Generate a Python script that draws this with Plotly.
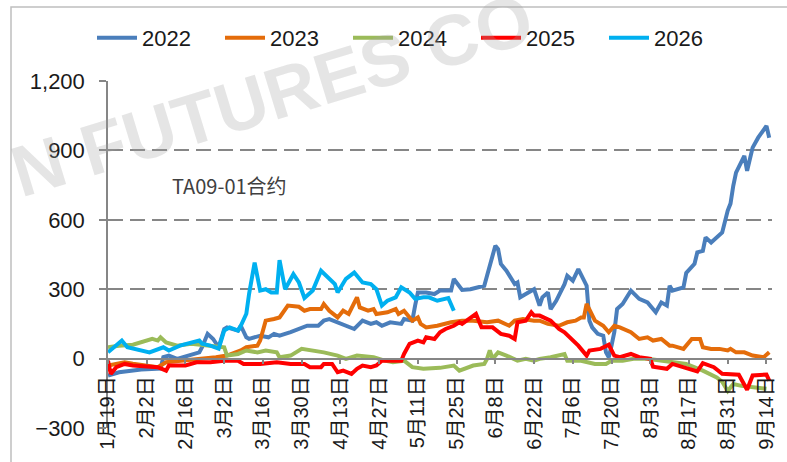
import plotly.graph_objects as go

BASE_YEAR = 2023  # non-leap display year for the month-day axis

# ---- data (month-day, spread value) ----
dates_2022 = ["01-19","01-23","01-31","02-07","02-08","02-10","02-13","02-15","02-18","02-21","02-22","02-24","02-26","02-28",
              "03-02","03-03","03-07","03-08","03-10","03-11","03-15","03-18","03-20","03-22","03-26","03-29","04-01","04-05",
              "04-07","04-09","04-12","04-15","04-18","04-21","04-24","04-26","04-28","05-01","05-05","05-06","05-09","05-10",
              "05-11","05-14","05-17","05-19","05-23","05-24","05-25","05-27","05-30","06-03","06-04","06-05","06-07","06-08",
              "06-09","06-10","06-12","06-13","06-15","06-16","06-17","06-19","06-22","06-24","06-25","06-27","06-28","06-30",
              "07-03","07-04","07-06","07-08","07-10","07-11","07-12","07-13","07-15","07-17","07-18","07-19","07-20","07-21",
              "07-22","07-24","07-27","07-30","08-02","08-05","08-07","08-09","08-10","08-11","08-15","08-16","08-19","08-20",
              "08-22","08-23","08-25","08-27","08-29","08-31","09-01","09-02","09-03","09-06","09-07","09-09","09-11","09-14","09-15"]
values_2022 = [-73,-59,-47,-43,6,13,-1,6,20,27,49,107,85,49,
               128,135,121,142,92,85,99,92,107,99,114,128,142,142,
               164,171,157,142,128,164,150,157,142,157,150,171,164,229,
               286,286,279,294,294,344,329,297,300,311,315,358,437,488,
               473,409,380,358,322,329,265,279,300,229,265,286,214,250,
               322,358,337,387,344,315,164,135,107,99,27,6,56,114,
               214,236,294,258,243,200,243,229,315,294,308,370,410,459,
               466,524,502,524,545,640,670,747,804,876,812,912,955,1006,955]

dates_2023 = ["01-19","01-25","01-28","02-06","02-09","02-16","02-22","02-27","03-03","03-08","03-10","03-14","03-15","03-17",
              "03-20","03-22","03-25","03-29","03-31","04-02","04-06","04-07","04-09","04-12","04-14","04-16","04-19","04-20",
              "04-23","04-25","04-26","04-30","05-03","05-04","05-06","05-09","05-11","05-12","05-14","05-18","05-23","05-27",
              "05-31","06-05","06-09","06-13","06-15","06-18","06-22","06-24","06-27","07-01","07-04","07-07","07-09","07-10",
              "07-11","07-12","07-14","07-17","07-19","07-21","07-23","07-27","07-30","08-02","08-04","08-07","08-10","08-11",
              "08-13","08-15","08-18","08-21","08-22","08-25","08-28","08-31","09-01","09-03","09-06","09-09","09-13","09-15"]
values_2023 = [-30,-16,-22,-37,-16,-9,-1,6,13,35,49,56,78,164,
               171,178,229,224,207,214,214,236,207,178,207,193,265,221,
               207,214,193,200,214,193,207,164,178,150,135,142,157,164,
               164,157,164,142,164,171,164,164,150,142,157,164,178,178,
               236,214,164,142,114,142,135,114,85,92,78,85,56,56,
               49,42,85,85,49,42,42,35,42,27,27,13,6,27]

dates_2024 = ["01-19","01-23","01-28","02-04","02-06","02-07","02-09","02-13","02-18","02-22","02-27","03-02","03-03","03-07",
              "03-10","03-14","03-17","03-21","03-22","03-26","03-30","04-03","04-07","04-12","04-15","04-19","04-25","04-29",
              "05-02","05-06","05-09","05-13","05-19","05-24","05-26","05-31","06-04","06-05","06-06","06-07","06-09","06-12",
              "06-16","06-19","06-22","06-24","06-28","07-03","07-04","07-09","07-14","07-18","07-20","07-24","07-28","08-02",
              "08-07","08-10","08-16","08-22","08-27","08-29","08-31","09-02","09-05","09-10","09-14"]
values_2024 = [49,56,60,85,78,92,70,56,64,60,56,49,13,20,
               35,27,35,27,6,13,42,35,27,13,-1,13,6,-9,
               -16,-9,-37,-44,-40,-30,-52,-30,-23,-1,35,-1,27,13,
               -9,-1,-9,-1,6,20,-9,-9,-23,-23,-9,-9,-1,-1,
               -9,-16,-23,-52,-81,-100,-140,-110,-118,-125,-130]

dates_2025 = ["01-19","01-20","01-22","01-25","01-28","02-06","02-09","02-10","02-16","02-20","02-25","03-02","03-07","03-09",
              "03-15","03-21","03-26","03-31","04-02","04-06","04-07","04-10","04-12","04-14","04-17","04-19","04-21","04-24",
              "04-26","04-28","05-05","05-06","05-08","05-11","05-13","05-14","05-17","05-19","05-21","05-24","05-26","05-27",
              "06-01","06-03","06-07","06-10","06-13","06-15","06-16","06-19","06-21","06-22","06-24","06-28","07-01","07-03",
              "07-08","07-11","07-12","07-16","07-19","07-21","07-23","07-27","07-30","08-03","08-04","08-09","08-11","08-15",
              "08-20","08-22","08-26","08-29","09-04","09-07","09-09","09-14","09-15"]
values_2025 = [-9,-66,-37,-23,-30,-37,-52,-30,-30,-16,-16,-9,-9,-23,
               -23,-16,-23,-23,-37,-37,-23,-23,-59,-52,-66,-44,-30,-37,
               -30,-9,-9,20,64,78,70,92,85,114,128,142,157,150,
               193,135,135,107,99,85,157,164,200,186,186,164,128,114,
               56,13,35,42,60,13,6,20,6,-1,-35,-44,-23,-37,
               -55,-20,-37,-66,-70,-135,-73,-69,-95]

dates_2026 = ["01-19","01-24","01-26","02-03","02-08","02-10","02-14","02-18","02-21","02-22","02-25","02-28","03-02","03-04",
              "03-07","03-08","03-10","03-11","03-13","03-15","03-17","03-19","03-21","03-22","03-24","03-27","03-29","03-31",
              "04-03","04-06","04-08","04-11","04-12","04-14","04-15","04-18","04-21","04-24","04-26","04-28","04-30","05-03",
              "05-05","05-08","05-10","05-13","05-15","05-18","05-22","05-24"]
values_2026 = [27,78,49,27,49,35,56,70,78,64,56,43,121,135,
               121,142,194,280,415,294,300,286,286,426,300,365,329,262,
               294,380,358,322,286,322,345,372,329,322,300,229,250,265,
               308,286,258,265,265,250,262,207]

series_names = ["2022", "2023", "2024", "2025", "2026"]
series_dates = [dates_2022, dates_2023, dates_2024, dates_2025, dates_2026]
series_values = [values_2022, values_2023, values_2024, values_2025, values_2026]
series_colors = ["#4A7EBB", "#E46C0A", "#9BBB59", "#FF0000", "#00B0F0"]

tick_dates = ["01-19","02-02","02-16","03-02","03-16","03-30","04-13","04-27","05-11","05-25",
              "06-08","06-22","07-06","07-20","08-03","08-17","08-31","09-14"]
tick_labels = ["1月19日","2月2日","2月16日","3月2日","3月16日","3月30日","4月13日","4月27日","5月11日","5月25日",
               "6月8日","6月22日","7月6日","7月20日","8月3日","8月17日","8月31日","9月14日"]

y_ticks = [-300, 0, 300, 600, 900, 1200]
annotation_text = "TA09-01合约"
watermark_text = "N FUTURES CO"

FONT = "Liberation Sans, Arial, Noto Sans CJK SC, sans-serif"

def to_date(md):
    return f"{BASE_YEAR}-{md}"

fig = go.Figure()
for name, ds, vs, col in zip(series_names, series_dates, series_values, series_colors):
    fig.add_trace(go.Scatter(
        x=[to_date(d) for d in ds], y=vs, name=name, mode="lines",
        line=dict(color=col, width=4), hoverinfo="skip"))

W, H = 787, 462
ML, MR, MT, MB = 108, 15, 81, 34
pw, ph = W - ML - MR, H - MT - MB

def px(xp):
    return (xp - ML) / pw

def py(yp):
    return (H - MB - yp) / ph

fig.update_layout(
    width=W, height=H,
    margin=dict(l=ML, r=MR, t=MT, b=MB, pad=0),
    paper_bgcolor="white", plot_bgcolor="white",
    font=dict(family=FONT, color="#262626"),
    showlegend=True,
    legend=dict(orientation="h", x=px(92), y=py(38), xanchor="left", yanchor="middle",
                font=dict(size=22, color="#1a1a1a"), bgcolor="rgba(0,0,0,0)",
                entrywidth=73, entrywidthmode="pixels", itemwidth=40, traceorder="normal"),
    xaxis=dict(
        type="date",
        range=[to_date("01-19"), to_date("09-16")],
        anchor="free", position=300/1500,
        tickvals=[to_date(d) for d in tick_dates], ticktext=tick_labels,
        tickangle=-90, tickfont=dict(size=20, color="#1a1a1a"),
        ticks="outside", ticklen=5, tickcolor="#868686", tickwidth=1.5,
        showline=True, linecolor="#868686", linewidth=1.5,
        showgrid=False, zeroline=False, automargin=False,
        ticklabelstandoff=4,
    ),
    yaxis=dict(
        range=[-300, 1200], tickvals=y_ticks, tickformat=",",
        tickfont=dict(size=22, color="#1a1a1a"),
        ticks="outside", ticklen=7, tickcolor="#868686", tickwidth=1.5,
        showline=True, linecolor="#868686", linewidth=1.5,
        showgrid=True, gridcolor="#868686", gridwidth=1.5, griddash="15px,7px",
        zeroline=False, automargin=False, ticklabelstandoff=10,
    ),
)

# faint watermark
fig.add_annotation(text=watermark_text, xref="paper", yref="paper", x=px(272), y=py(95),
                   xanchor="center", yanchor="middle", showarrow=False, textangle=-17,
                   font=dict(size=72, family="Liberation Sans, Arial", color="rgba(160,160,160,0.28)", weight="bold"))

fig.add_annotation(text=annotation_text, xref="paper", yref="paper", x=px(170), y=py(185),
                   xanchor="left", yanchor="middle", showarrow=False,
                   font=dict(size=20, color="#404040", family="Noto Sans CJK SC, Liberation Sans, sans-serif"))

# outer chart border
fig.add_shape(type="rect", xref="paper", yref="paper", x0=px(11), x1=px(800), y0=py(480), y1=py(7),
              line=dict(color="#BFBFBF", width=1.5), fillcolor="rgba(0,0,0,0)", layer="below")

fig.write_html("out.html", config={"displayModeBar": False},
               post_script="document.body.style.margin='0';document.body.style.overflow='hidden';")
